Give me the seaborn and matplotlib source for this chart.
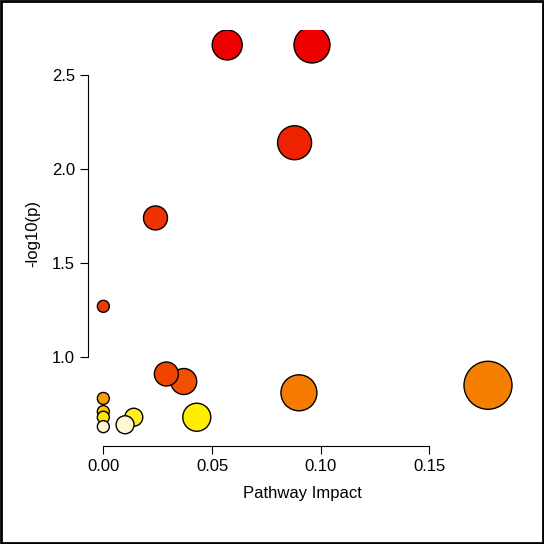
import numpy as np
import pandas as pd
import matplotlib
matplotlib.use('Agg')
import matplotlib.pyplot as plt
import seaborn as sns

impact = [0.057, 0.096, 0.088, 0.024, 0.000, 0.029, 0.037, 0.090, 0.177,
          0.043, 0.014, 0.010, 0.000, 0.000, 0.000, 0.000]
logp = [2.66, 2.66, 2.14, 1.74, 1.27, 0.91, 0.87, 0.81, 0.85,
        0.68, 0.68, 0.64, 0.78, 0.71, 0.68, 0.63]
radius_px = [15, 18, 17, 12, 6, 12, 13, 18, 24, 14, 9, 9, 6, 6, 6, 6]
colors = ['#EE0000', '#EE0000', '#EE2200', '#EE3300', '#EE3A00', '#EE4400',
          '#F05000', '#F57A00', '#F57E00', '#FFEE00', '#FFEE22', '#FFF8D0',
          '#F9A000', '#FFC800', '#FFE800', '#FFF8D0']

df = pd.DataFrame({'impact': impact, 'logp': logp,
                   'name': [f'p{i}' for i in range(len(impact))]})
df['s'] = [(2 * r * 0.72) ** 2 for r in radius_px]
# draw big circles first so small ones stay visible
df = df.sort_values('s', ascending=False)

sns.set_style('white')
plt.rcParams['font.family'] = ['Liberation Sans', 'DejaVu Sans']
fig = plt.figure(figsize=(5.44, 5.44), dpi=100)
ax = fig.add_axes([0.162, 0.195, 0.787, 0.75])

smin, smax = df['s'].min(), df['s'].max()
sns.scatterplot(data=df, x='impact', y='logp', hue='name', size='s',
                sizes=(smin, smax), size_norm=(smin, smax),
                palette=dict(zip([f'p{i}' for i in range(len(impact))], colors)),
                edgecolor='black', linewidth=1, legend=False, ax=ax, zorder=3)

ax.set_xlim(-0.007, 0.19)
ax.set_ylim(0.57, 2.74)
ax.set_xticks([0.0, 0.05, 0.10, 0.15])
ax.set_xticklabels(['0.00', '0.05', '0.10', '0.15'])
ax.set_yticks([1.0, 1.5, 2.0, 2.5])
ax.set_yticklabels(['1.0', '1.5', '2.0', '2.5'], rotation=90, va='center')
for side in ['top', 'right']:
    ax.spines[side].set_visible(False)
ax.spines['bottom'].set_bounds(0, 0.15)
ax.spines['left'].set_bounds(1.0, 2.5)
ax.spines['bottom'].set_position(('outward', 6))
ax.spines['left'].set_position(('outward', 0))
for side in ['bottom', 'left']:
    ax.spines[side].set_color('black')
ax.tick_params(axis='both', which='both', direction='out', length=6,
               color='black', labelcolor='black', labelsize=12,
               bottom=True, left=True)
ax.set_xlabel('Pathway Impact', fontsize=12, labelpad=8, color='black')
ax.set_ylabel('-log10(p)', fontsize=12, labelpad=8, color='black')

fig.patches.append(plt.Rectangle((0.002, 0.002), 0.996, 0.996, transform=fig.transFigure,
                                 fill=False, edgecolor='black', linewidth=2))
fig.savefig('out.png', dpi=100)
